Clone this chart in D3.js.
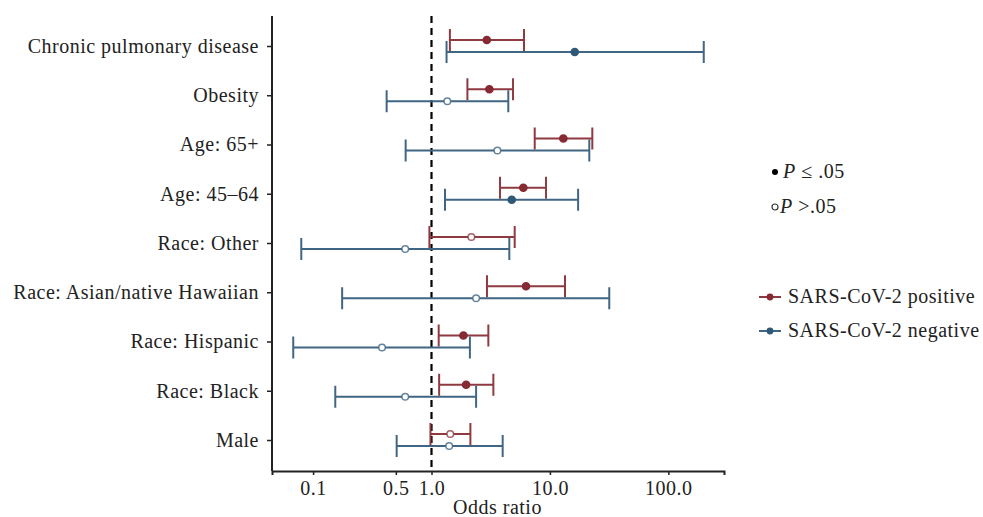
<!DOCTYPE html>
<html>
<head>
<meta charset="utf-8">
<script src="https://cdn.jsdelivr.net/npm/d3@7"></script>
<style>
  body { margin: 0; background: #fff; }
  svg text { font-family: "Liberation Serif", "Times New Roman", Tinos, "DejaVu Serif"; fill: #222; letter-spacing: 0.5px; }
</style>
</head>
<body>
<div id="chart"></div>
<script>
(function () {
  // categories, top to bottom
  const categories = [
    "Chronic pulmonary disease", "Obesity", "Age: 65+", "Age: 45\u201364", "Race: Other",
    "Race: Asian/native Hawaiian", "Race: Hispanic", "Race: Black", "Male"
  ];

  // SARS-CoV-2 positive: odds ratio, lower, upper, significant
  const posOR  = [2.93, 3.08, 12.98, 5.96, 2.17, 6.28, 1.86, 1.96, 1.44];
  const posLo  = [1.43, 2.01, 7.44, 3.79, 0.96, 2.94, 1.15, 1.16, 0.98];
  const posHi  = [6.04, 4.88, 22.8, 9.27, 5.04, 13.4, 3.02, 3.33, 2.13];
  const posSig = [true, true, true, true, false, true, true, true, false];

  // SARS-CoV-2 negative
  const negOR  = [16.2, 1.36, 3.6, 4.76, 0.60, 2.38, 0.382, 0.60, 1.41];
  const negLo  = [1.34, 0.418, 0.605, 1.30, 0.0795, 0.176, 0.068, 0.154, 0.508];
  const negHi  = [199, 4.45, 21.5, 17.3, 4.54, 31.7, 2.11, 2.38, 3.99];
  const negSig = [true, false, false, true, false, false, false, false, false];

  const xTicks = [0.1, 0.5, 1, 10, 100];
  const xTickLabels = ["0.1", "0.5", "1.0", "10.0", "100.0"];

  const series = [
    { name: "SARS-CoV-2 positive", or: posOR, lo: posLo, hi: posHi, sig: posSig, line: "#8e3a40", dot: "#862a33", off: -6 },
    { name: "SARS-CoV-2 negative", or: negOR, lo: negLo, hi: negHi, sig: negSig, line: "#406684", dot: "#2e5977", off: 6 }
  ];

  const width = 983, height = 517;
  const margin = { left: 272, right: 259, top: 16, bottom: 46 };
  const fontSize = 20;

  const svg = d3.select('#chart').append('svg')
    .attr('width', width)
    .attr('height', height);

  const x = d3.scaleLog()
    .domain([0.045, 295])
    .range([margin.left, width - margin.right]);

  const y = d3.scalePoint()
    .domain(categories)
    .range([46, 440]);

  const plotBottom = height - margin.bottom;

  // reference line at OR = 1
  svg.append('line')
    .attr('x1', x(1)).attr('x2', x(1))
    .attr('y1', margin.top).attr('y2', plotBottom)
    .attr('stroke', '#000')
    .attr('stroke-width', 2.2)
    .attr('stroke-dasharray', '7,5');

  const capH = 11;

  series.forEach(function (s) {
    const g = svg.append('g');
    categories.forEach(function (c, i) {
      const cy = y(c) + s.off;
      g.append('line')
        .attr('x1', x(s.lo[i])).attr('x2', x(s.hi[i]))
        .attr('y1', cy).attr('y2', cy)
        .attr('stroke', s.line).attr('stroke-width', 2);
      [s.lo[i], s.hi[i]].forEach(function (v) {
        g.append('line')
          .attr('x1', x(v)).attr('x2', x(v))
          .attr('y1', cy - capH).attr('y2', cy + capH)
          .attr('stroke', s.line).attr('stroke-width', 2);
      });
      g.append('circle')
        .attr('cx', x(s.or[i])).attr('cy', cy)
        .attr('r', s.sig[i] ? 3.6 : 3.3)
        .attr('fill', s.sig[i] ? s.dot : '#fff')
        .attr('stroke', s.sig[i] ? s.dot : s.line)
        .attr('stroke-opacity', s.sig[i] ? 1 : 0.8)
        .attr('stroke-width', 1.5);
    });
  });

  // x axis
  const xAxis = svg.append('g')
    .attr('transform', `translate(0,${plotBottom})`)
    .call(d3.axisBottom(x).tickValues(xTicks).tickFormat(function (d, i) { return xTickLabels[i]; }).tickSizeOuter(0).tickSize(4).tickPadding(6));
  xAxis.select('.domain').attr('stroke', '#222').attr('stroke-width', 2);
  xAxis.selectAll('.tick line').attr('stroke', '#222').attr('stroke-width', 1.5);
  xAxis.selectAll('text').attr('font-size', fontSize).attr('fill', '#222').attr('font-family', null);

  // y axis
  const yAxis = svg.append('g')
    .attr('transform', `translate(${margin.left},0)`)
    .call(d3.axisLeft(y).tickSize(5).tickPadding(8));
  yAxis.select('.domain').attr('d', `M0,${margin.top}V${plotBottom}`).attr('stroke', '#222').attr('stroke-width', 2);
  yAxis.selectAll('.tick line').attr('stroke', '#222').attr('stroke-width', 1.5);
  yAxis.selectAll('text').attr('font-size', fontSize).attr('fill', '#222').attr('font-family', null);

  svg.append('text')
    .attr('x', x(1) + 66).attr('y', 514)
    .attr('text-anchor', 'middle')
    .attr('font-size', fontSize)
    .text('Odds ratio');

  // legend: significance
  const sigLegend = svg.append('g').attr('transform', 'translate(775,0)');
  sigLegend.append('circle').attr('cx', 0).attr('cy', 172).attr('r', 3).attr('fill', '#000');
  const t1 = sigLegend.append('text').attr('x', 8).attr('y', 178).attr('font-size', fontSize);
  t1.append('tspan').attr('font-style', 'italic').text('P');
  t1.append('tspan').text(' \u2264 .05');
  sigLegend.append('circle').attr('cx', 0).attr('cy', 207).attr('r', 3).attr('fill', '#fff').attr('stroke', '#333').attr('stroke-width', 1.2);
  const t2 = sigLegend.append('text').attr('x', 5).attr('y', 213).attr('font-size', fontSize);
  t2.append('tspan').attr('font-style', 'italic').text('P');
  t2.append('tspan').text(' >.05');

  // legend: series
  series.forEach(function (s, i) {
    const ly = 297 + i * 34;
    const lg = svg.append('g');
    lg.append('line').attr('x1', 759).attr('x2', 781).attr('y1', ly).attr('y2', ly)
      .attr('stroke', s.line).attr('stroke-width', 2);
    lg.append('circle').attr('cx', 770).attr('cy', ly).attr('r', 3.4).attr('fill', s.dot);
    lg.append('text').attr('x', 788).attr('y', ly + 6).attr('font-size', fontSize).text(s.name);
  });
})();
</script>
</body>
</html>
